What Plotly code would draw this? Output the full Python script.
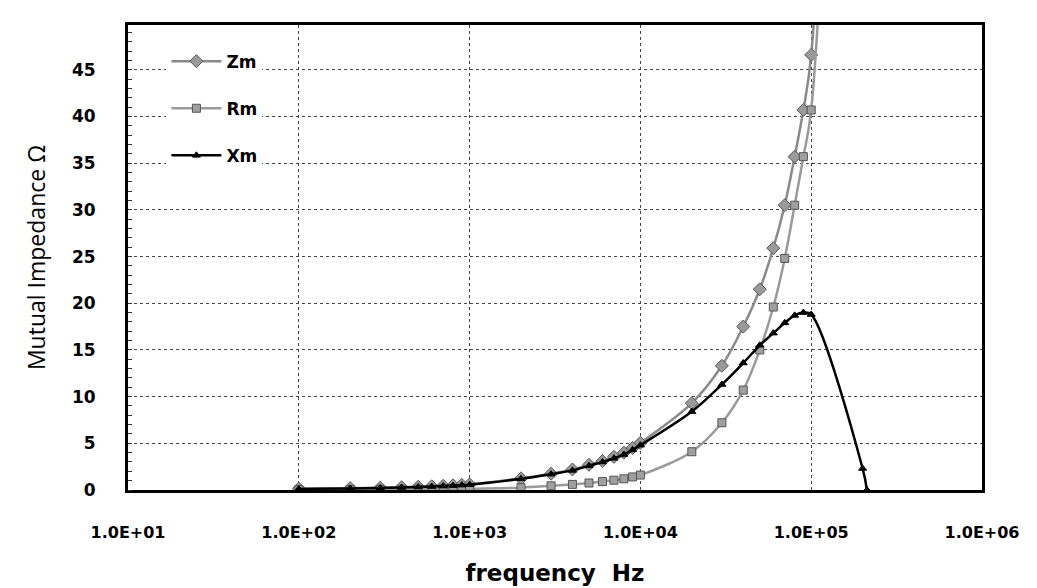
import plotly.graph_objects as go

# ---- data ----
freq = [100, 200, 300, 400, 500, 600, 700, 800, 900, 1000,
        2000, 3000, 4000, 5000, 6000, 7000, 8000, 9000, 10000,
        20000, 30000, 40000, 50000, 60000, 70000, 80000, 90000, 100000,
        200000]
zm = [0.15, 0.2, 0.25, 0.3, 0.35, 0.4, 0.45, 0.5, 0.55, 0.6,
      1.25, 1.75, 2.2, 2.7, 3.1, 3.55, 4.0, 4.5, 5.05,
      9.3, 13.3, 17.5, 21.5, 25.9, 30.5, 35.7, 40.7, 46.6,
      160]
rm = [0.05, 0.05, 0.06, 0.07, 0.08, 0.09, 0.1, 0.11, 0.12, 0.13,
      0.25, 0.45, 0.6, 0.75, 0.9, 1.05, 1.2, 1.4, 1.6,
      4.1, 7.2, 10.7, 15.0, 19.6, 24.8, 30.5, 35.7, 40.7,
      158]
xm_freq = [100, 200, 300, 400, 500, 600, 700, 800, 900, 1000,
           2000, 3000, 4000, 5000, 6000, 7000, 8000, 9000, 10000,
           20000, 30000, 40000, 50000, 60000, 70000, 80000, 90000, 100000,
           200000, 212000]
xm = [0.12, 0.17, 0.22, 0.27, 0.32, 0.37, 0.42, 0.47, 0.52, 0.57,
      1.2, 1.7, 2.1, 2.6, 3.0, 3.4, 3.8, 4.3, 4.8,
      8.4, 11.3, 13.6, 15.5, 16.8, 17.9, 18.7, 19.0, 18.8,
      2.3, 0.0]

x_tickvals = [10, 100, 1000, 10000, 100000, 1000000]
x_ticktext = ["1.0E+01", "1.0E+02", "1.0E+03", "1.0E+04", "1.0E+05", "1.0E+06"]
y_tickvals = [0, 5, 10, 15, 20, 25, 30, 35, 40, 45]

FONT = "DejaVu Sans"

fig = go.Figure()
fig.add_trace(go.Scatter(
    x=freq, y=zm, name="Zm", mode="lines+markers", legendgroup="a",
    line=dict(color="#8a8a8a", width=2.5, shape="spline"),
    marker=dict(symbol="diamond", size=10, color="#9a9a9a",
                line=dict(color="#555555", width=1))))
fig.add_trace(go.Scatter(
    x=freq, y=rm, name="Rm", mode="lines+markers", legendgroup="b",
    line=dict(color="#9a9a9a", width=2.5, shape="spline"),
    marker=dict(symbol="square", size=8, color="#a0a0a0",
                line=dict(color="#555555", width=1))))
fig.add_trace(go.Scatter(
    x=xm_freq, y=xm, name="Xm", mode="lines+markers", legendgroup="c",
    line=dict(color="#000000", width=2.5, shape="spline"),
    marker=dict(symbol="triangle-up", size=7, color="#000000",
                line=dict(color="#000000", width=1))))

fig.update_layout(
    width=1037, height=588,
    margin=dict(l=128, r=55, t=25, b=98),
    paper_bgcolor="white", plot_bgcolor="white",
    font=dict(family=FONT, color="black"),
    showlegend=True,
    legend=dict(x=0.045, y=0.96, xanchor="left", yanchor="top",
                bgcolor="white", borderwidth=0,
                font=dict(family=FONT, size=17, color="black", weight="bold"),
                tracegroupgap=22, itemwidth=50),
    xaxis=dict(type="log", range=[1, 6], automargin=False,
               tickvals=x_tickvals, ticktext=x_ticktext,
               tickfont=dict(family=FONT, size=16, color="black", weight="bold"),
               ticks="", ticklabelstandoff=26,
               showgrid=True, gridcolor="#444444", griddash="dot", gridwidth=1,
               showline=True, linecolor="black", linewidth=3, mirror=True,
               zeroline=False,
               title=dict(text="frequency  Hz", standoff=24,
                          font=dict(family=FONT, size=23, color="black", weight="bold"))),
    yaxis=dict(range=[0, 49.8], automargin=False,
               tickvals=y_tickvals,
               tickfont=dict(family=FONT, size=17, color="black", weight="bold"),
               ticks="", ticklabelstandoff=26,
               showgrid=True, gridcolor="#444444", griddash="dot", gridwidth=1,
               showline=True, linecolor="black", linewidth=3, mirror=True,
               zeroline=False,
               minor=dict(dtick=1, ticks="inside", ticklen=4, tickcolor="#333333",
                          showgrid=False),
               title=dict(text="Mutual Impedance Ω", standoff=20,
                          font=dict(family="Open Sans", size=23, color="black"))),
)

fig.write_html("out.html")
